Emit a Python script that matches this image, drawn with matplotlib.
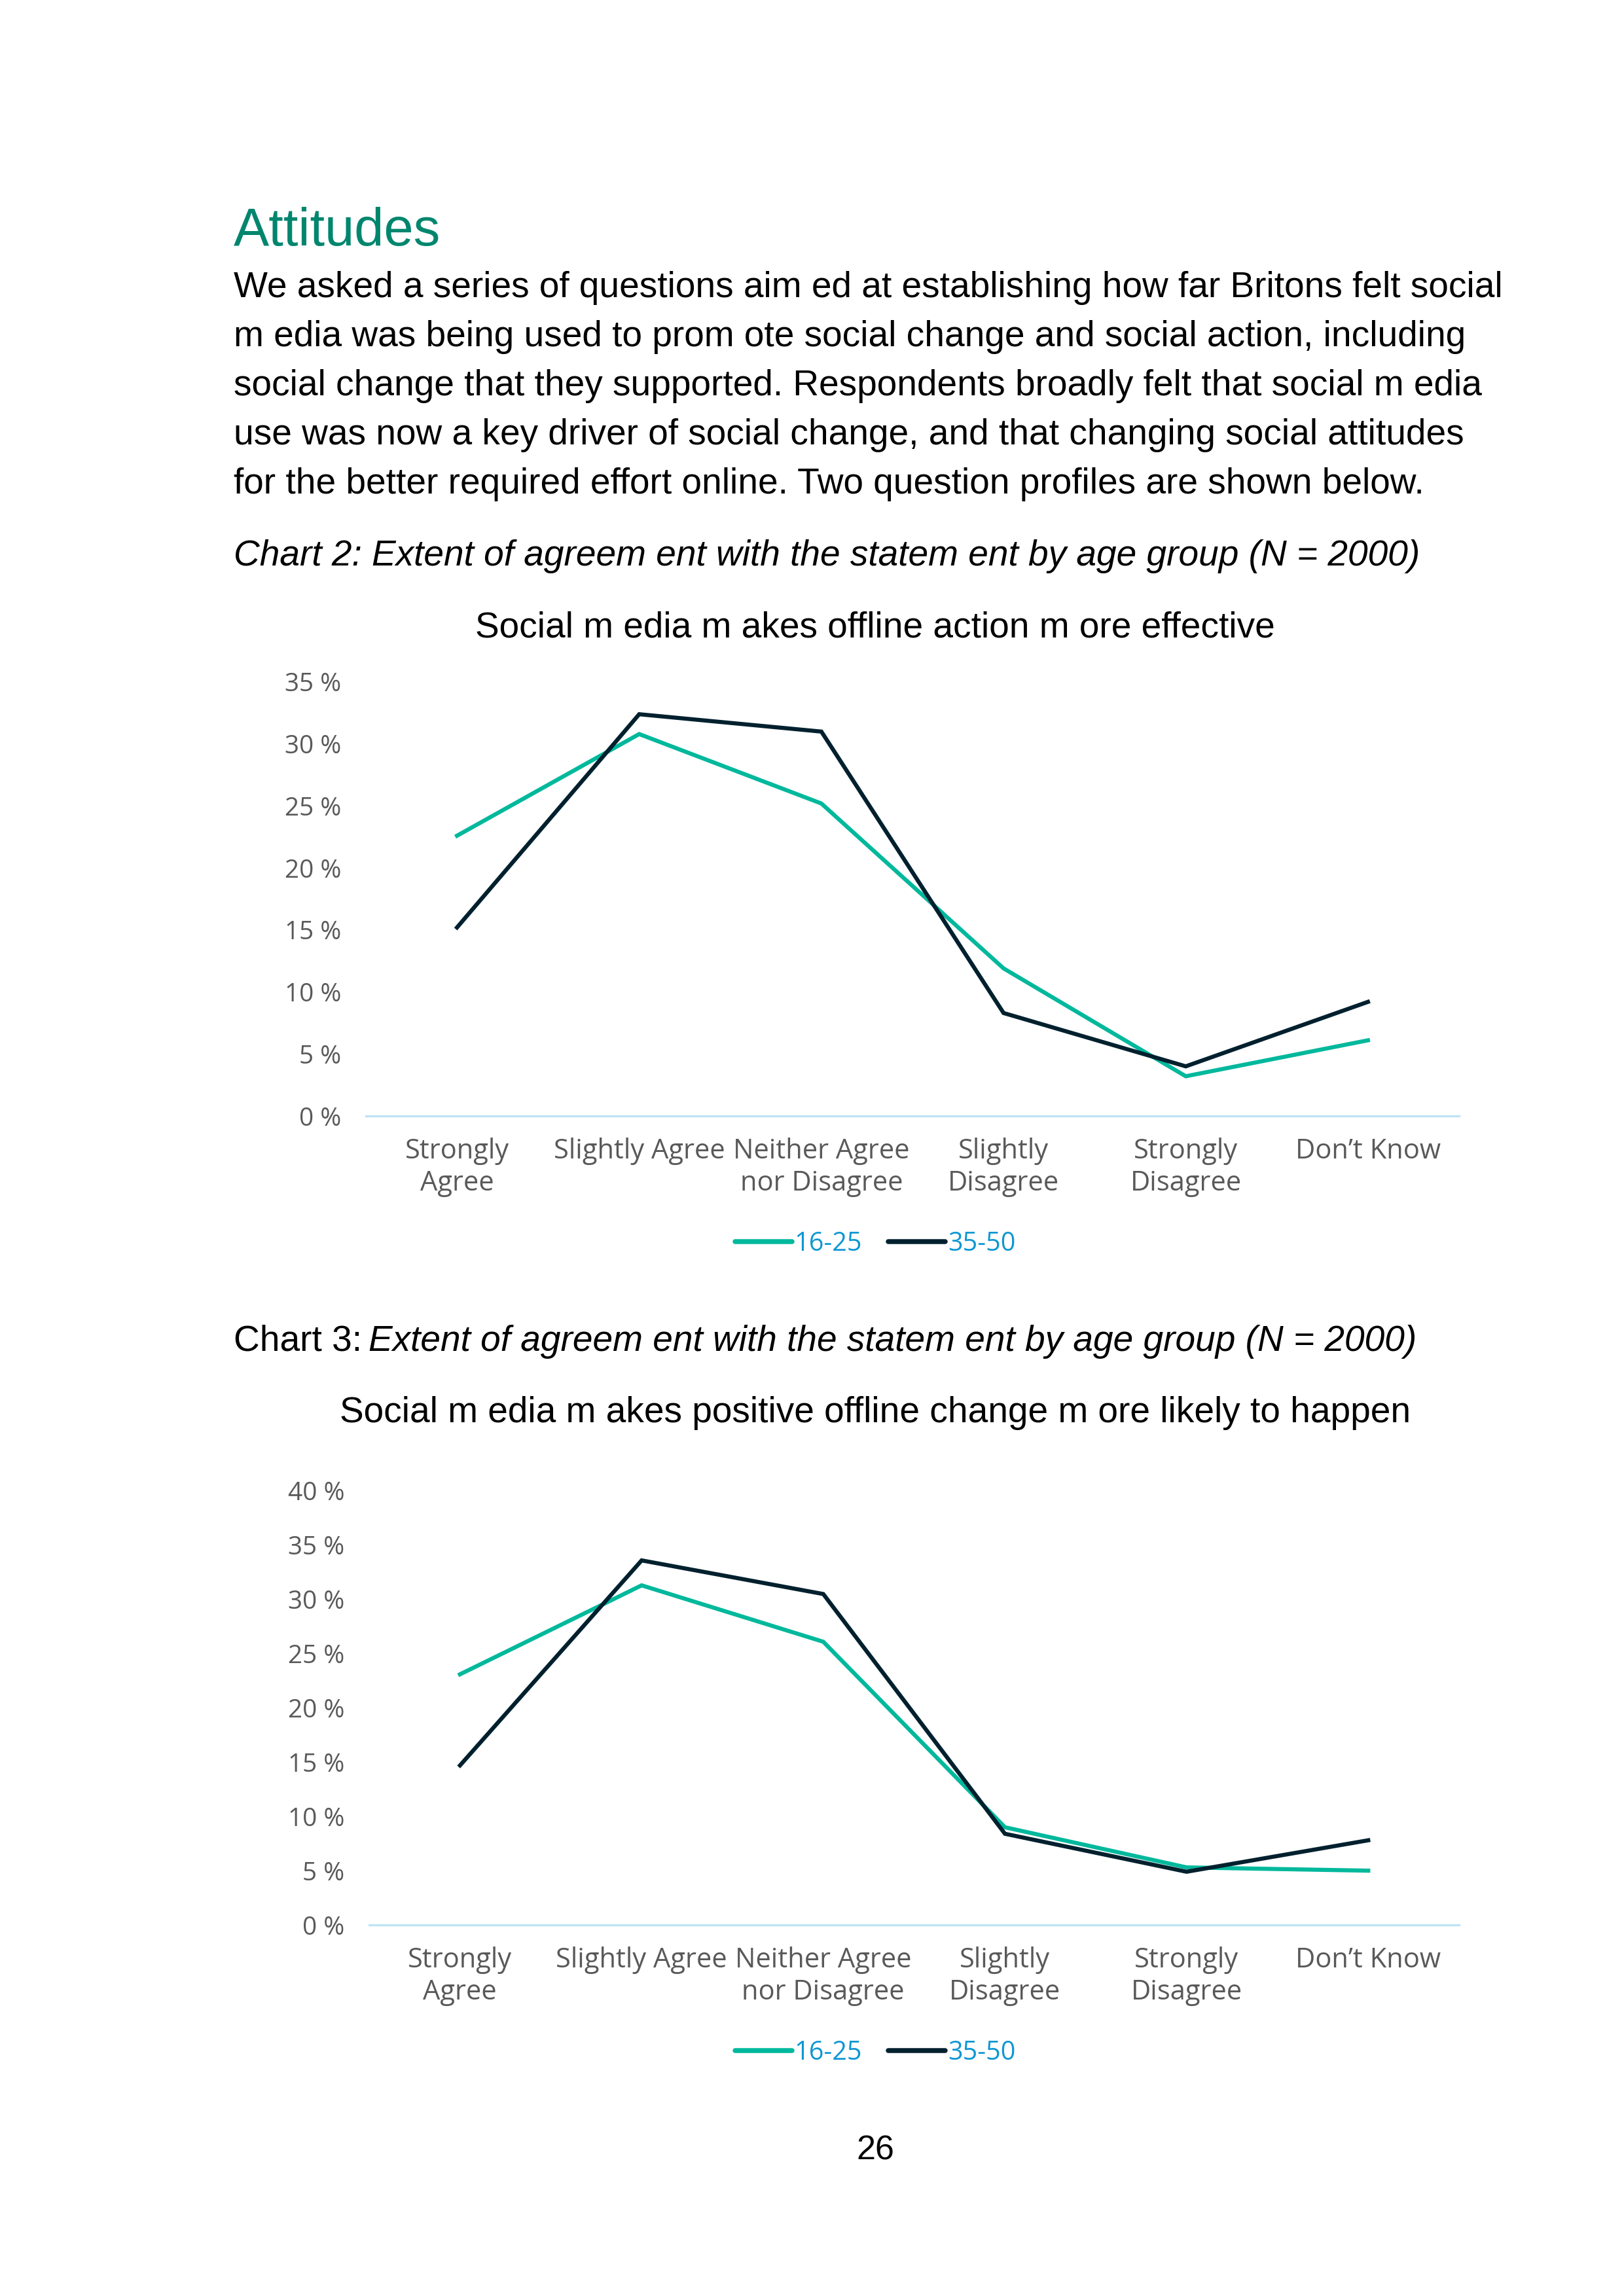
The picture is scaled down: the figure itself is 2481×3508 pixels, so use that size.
import matplotlib
matplotlib.use("Agg")
import matplotlib.pyplot as plt

# --- data ---
categories = ["Strongly\nAgree", "Slightly Agree", "Neither Agree\nnor Disagree",
              "Slightly\nDisagree", "Strongly\nDisagree", "Don\u2019t Know"]
series_names = ["16-25", "35-50"]

chart2_young = [22.6, 30.8, 25.2, 11.9, 3.2, 6.1]
chart2_older = [15.2, 32.4, 31.0, 8.3, 4.0, 9.2]

chart3_young = [23.1, 31.3, 26.1, 9.0, 5.3, 5.0]
chart3_older = [14.7, 33.6, 30.5, 8.4, 4.9, 7.8]

chart2_ticks = [0, 5, 10, 15, 20, 25, 30, 35]
chart3_ticks = [0, 5, 10, 15, 20, 25, 30, 35, 40]

body_lines = [
    "We asked a series of questions aim ed at establishing how far Britons felt social",
    "m edia was being used to prom ote social change and social action, including",
    "social change that they supported. Respondents broadly felt that social m edia",
    "use was now a key driver of social change, and that changing social attitudes",
    "for the better required effort online. Two question profiles are shown below.",
]

TEAL = "#00B89C"
DARK = "#00202E"
GREY = "#595959"
BLUE = "#0E97D3"
BASE = "#BFE4F4"

W, H = 2481, 3508
fig = plt.figure(figsize=(W / 300, H / 300), dpi=300)

def fx(px):
    return px / W

def fy(py):
    return 1 - py / H

TXT = 13.2  # body / caption size

# heading + body text
fig.text(fx(357), fy(354), "Attitudes", color="#00866E", fontsize=19.5,
         family="Liberation Sans", va="center", ha="left")
for i, line in enumerate(body_lines):
    fig.text(fx(357), fy(440 + i * 75), line, fontsize=TXT,
             family="Liberation Sans", va="center", ha="left", color="black")

fig.text(fx(357), fy(850), "Chart 2: Extent of agreem ent with the statem ent by age group (N = 2000)",
         fontsize=TXT, family="Liberation Sans", style="italic", va="center", ha="left")
fig.text(fx(357), fy(2050), "Chart 3: ", fontsize=TXT, family="Liberation Sans",
         va="center", ha="left")
fig.text(fx(563), fy(2050), "Extent of agreem ent with the statem ent by age group (N = 2000)",
         fontsize=TXT, family="Liberation Sans", style="italic", va="center", ha="left")

fig.text(fx(1337), fy(959), "Social m edia m akes offline action m ore effective",
         fontsize=TXT, family="Liberation Sans", va="center", ha="center")
fig.text(fx(1337), fy(2159), "Social m edia m akes positive offline change m ore likely to happen",
         fontsize=TXT, family="Liberation Sans", va="center", ha="center")

fig.text(fx(1337), fy(3286), "26", fontsize=12.5, family="Liberation Sans",
         va="center", ha="center")


def draw(rect, young, older, ticks, legend_y):
    ax = fig.add_axes(rect)
    x = list(range(len(categories)))
    ax.plot(x, young, color=TEAL, lw=1.5, label=series_names[0], solid_joinstyle="miter")
    ax.plot(x, older, color=DARK, lw=1.5, label=series_names[1], solid_joinstyle="miter")
    ax.set_xlim(-0.5, len(categories) - 0.5)
    ax.set_ylim(0, ticks[-1])
    ax.set_yticks(ticks)
    ax.set_yticklabels([f"{t} %" for t in ticks])
    ax.set_xticks(x)
    ax.set_xticklabels(categories)
    for side in ["top", "right", "left"]:
        ax.spines[side].set_visible(False)
    ax.spines["bottom"].set_color(BASE)
    ax.spines["bottom"].set_linewidth(0.8)
    ax.tick_params(axis="both", length=0, labelcolor=GREY)
    ax.tick_params(axis="y", pad=9, labelsize=9.3)
    ax.tick_params(axis="x", pad=8, labelsize=10)
    for lab in ax.get_xticklabels() + ax.get_yticklabels():
        lab.set_family("Open Sans")
    leg = ax.legend(loc="center", bbox_to_anchor=(fx(1337), fy(legend_y)),
                    bbox_transform=fig.transFigure, ncol=2, frameon=False,
                    handlelength=2.2, handletextpad=0.1, columnspacing=1.0,
                    prop={"family": "Open Sans", "size": 9.5})
    for t in leg.get_texts():
        t.set_color(BLUE)
    for l in leg.get_lines():
        l.set_linewidth(1.8)
        l.set_solid_capstyle("round")
    return ax


draw([fx(559), fy(1705), fx(2229) - fx(559), fy(1042) - fy(1705)],
     chart2_young, chart2_older, chart2_ticks, 1901)
draw([fx(564), fy(2941), fx(2229) - fx(564), fy(2278) - fy(2941)],
     chart3_young, chart3_older, chart3_ticks, 3137)

fig.savefig("out.png", dpi=300)
